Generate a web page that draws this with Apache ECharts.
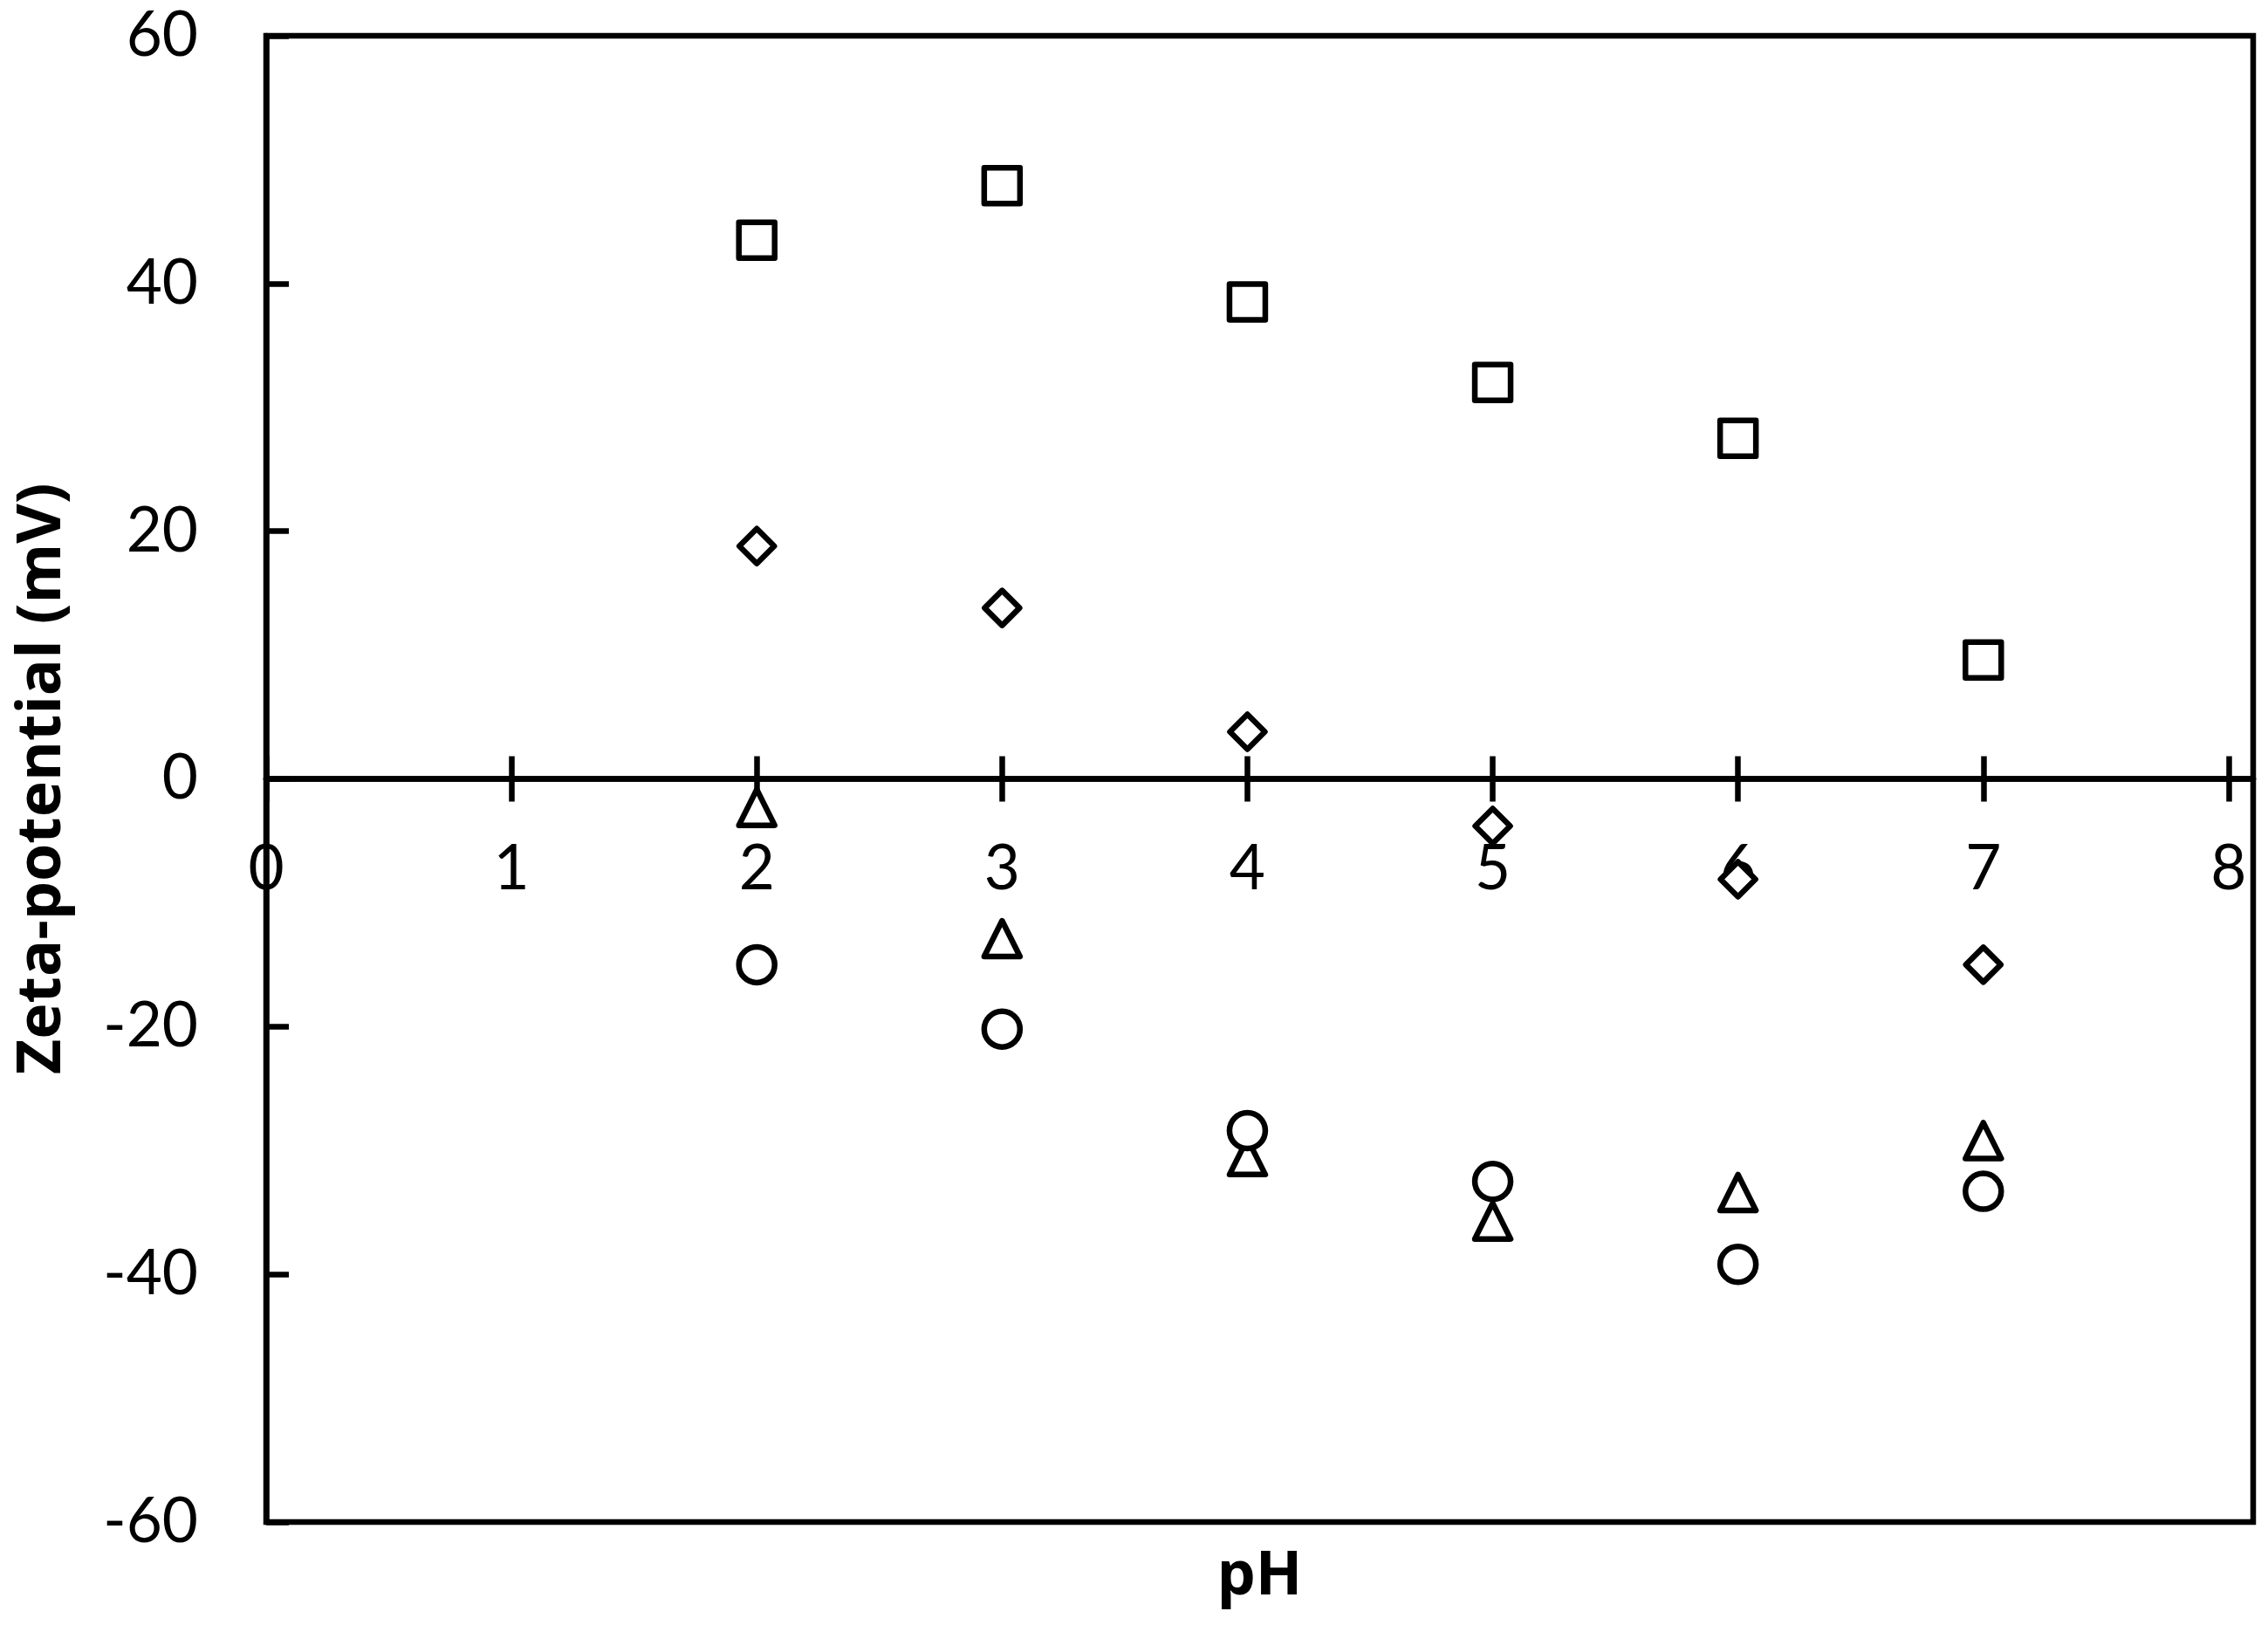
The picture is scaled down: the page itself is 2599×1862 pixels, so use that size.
<!DOCTYPE html>
<html>
<head>
<meta charset="utf-8">
<title>Zeta-potential vs pH</title>
<script src="https://cdn.jsdelivr.net/npm/echarts@6/dist/echarts.min.js"></script>
<style>
  html, body { margin: 0; padding: 0; background: #fff; }
  #chart { width: 2599px; height: 1862px; }
</style>
</head>
<body>
<div id="chart"></div>
<script>
// pH values shared by all four series
const phValues = [2, 3, 4, 5, 6, 7]
const squareData = [43.5, 47.9, 38.5, 32.0, 27.5, 9.6]
const diamondData = [18.8, 13.8, 3.8, -3.8, -8.1, -15.0]
const triangleData = [-2.3, -12.9, -30.5, -35.7, -33.4, -29.2]
const circleData = [-15.0, -20.2, -28.4, -32.5, -39.2, -33.3]
const xTicks = [0, 1, 2, 3, 4, 5, 6, 7, 8]

const fontFamily = 'Lato, "Open Sans", sans-serif'
const titleFont = '"Open Sans", Lato, sans-serif'
const lineW = 6.5

const chartW = 2599
const chartH = 1862
const gridTop = 41
const gridBottom = 118
// y runs -60..60, so zero sits half way down the plot
const zeroOffset = -(chartH - gridTop - gridBottom) / 2

function pairs(ys) {
  return phValues.map((x, i) => [x, ys[i]])
}

function markerSeries(name, symbol, ys) {
  return {
    name: name,
    type: 'scatter',
    symbol: symbol,
    symbolSize: symbol === 'diamond' ? 40 : 41,
    data: pairs(ys),
    itemStyle: {
      color: '#fff',
      opacity: 1,
      borderColor: '#000',
      borderWidth: lineW,
      borderJoin: 'round'
    },
    emphasis: { disabled: true },
    animation: false
  }
}

const chart = echarts.init(document.getElementById('chart'))
chart.setOption({
  backgroundColor: '#fff',
  grid: {
    left: 305,
    right: 17,
    top: gridTop,
    bottom: gridBottom,
    show: true,
    borderColor: '#000',
    borderWidth: lineW,
    containLabel: false,
    outerBoundsMode: 'none'
  },
  xAxis: [{
    // main x axis drawn on the zero line: labels + upward half of the ticks
    type: 'value',
    min: 0,
    max: 8.1,
    position: 'bottom',
    offset: zeroOffset,
    name: 'pH',
    nameLocation: 'middle',
    nameGap: 880,
    nameTextStyle: { fontFamily: titleFont, fontWeight: 'bold', fontSize: 70, color: '#000' },
    axisLine: { onZero: false, lineStyle: { color: '#000', width: lineW } },
    axisTick: { inside: true, length: 26, customValues: xTicks, lineStyle: { color: '#000', width: lineW } },
    axisLabel: { margin: 68, customValues: xTicks, fontFamily: fontFamily, fontSize: 71, color: '#000' },
    splitLine: { show: false }
  }, {
    // second copy only for the downward half of the ticks
    type: 'value',
    min: 0,
    max: 8.1,
    position: 'bottom',
    offset: zeroOffset,
    axisLine: { onZero: false, lineStyle: { color: '#000', width: lineW } },
    axisTick: { inside: false, length: 26, customValues: xTicks, lineStyle: { color: '#000', width: lineW } },
    axisLabel: { show: false },
    splitLine: { show: false }
  }],
  yAxis: [{
    type: 'value',
    min: -60,
    max: 60,
    interval: 20,
    name: 'Zeta-potential (mV)',
    nameLocation: 'middle',
    nameGap: 221,
    nameTextStyle: { fontFamily: titleFont, fontWeight: 'bold', fontSize: 70, color: '#000' },
    axisLine: { show: true, onZero: false, lineStyle: { color: '#000', width: lineW } },
    axisTick: { show: true, inside: true, length: 26, lineStyle: { color: '#000', width: lineW } },
    axisLabel: { margin: 78, fontFamily: fontFamily, fontSize: 71, color: '#000' },
    splitLine: { show: false }
  }],
  series: [
    markerSeries('square', 'rect', squareData),
    markerSeries('diamond', 'diamond', diamondData),
    markerSeries('triangle', 'triangle', triangleData),
    markerSeries('circle', 'circle', circleData)
  ]
})
</script>
</body>
</html>
